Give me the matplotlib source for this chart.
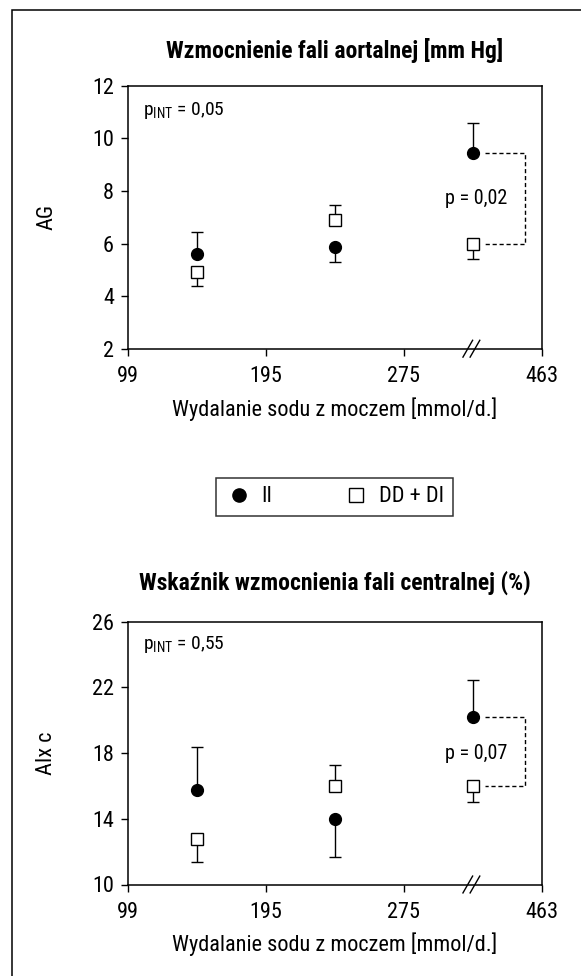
import numpy as np
import matplotlib
matplotlib.use("Agg")
import matplotlib.pyplot as plt
from matplotlib.lines import Line2D
from matplotlib.patches import Rectangle

FONT = ['Roboto Condensed', 'DejaVu Sans']
plt.rcParams['font.family'] = FONT
plt.rcParams['mathtext.fontset'] = 'custom'
plt.rcParams['mathtext.rm'] = 'Roboto Condensed'
plt.rcParams['mathtext.it'] = 'Roboto Condensed'

# ---------------- data ----------------
tick_labels = ['99', '195', '275', '463']
groups = ['99-195', '195-275', '275-463']

ag_ii = [5.6, 5.85, 9.45]
ag_ii_err = [0.85, 0.55, 1.15]
ag_ii_dir = ['up', 'down', 'up']
ag_dd = [4.9, 6.9, 6.0]
ag_dd_err = [0.5, 0.55, 0.6]
ag_dd_dir = ['down', 'up', 'down']

aix_ii = [15.75, 14.0, 20.2]
aix_ii_err = [2.6, 2.35, 2.25]
aix_ii_dir = ['up', 'down', 'up']
aix_dd = [12.75, 16.0, 16.0]
aix_dd_err = [1.4, 1.25, 1.0]
aix_dd_dir = ['down', 'up', 'down']

titles = ['Wzmocnienie fali aortalnej [mm Hg]', 'Wskaźnik wzmocnienia fali centralnej (%)']
ylabels = ['AG', 'AIx c']
xlabel = 'Wydalanie sodu z moczem [mmol/d.]'
p_int = ['0,05', '0,55']
p_pair = ['0,02', '0,07']
series_labels = ['II', 'DD + DI']

W, H = 581, 976
fig = plt.figure(figsize=(W / 100, H / 100), dpi=100)

def fx(px):
    return px / W

def fy(py):
    return 1 - py / H

# outer frame (top and left visible)
fig.patches.append(Rectangle((fx(12), fy(990)), fx(600), fy(10) - fy(990),
                             transform=fig.transFigure, fill=False,
                             edgecolor='black', linewidth=1.1))

ax_specs = [
    dict(top=85.7, bottom=348.7, ylim=(2, 12), yticks=[2, 4, 6, 8, 10, 12],
         ii=ag_ii, ii_err=ag_ii_err, ii_dir=ag_ii_dir,
         dd=ag_dd, dd_err=ag_dd_err, dd_dir=ag_dd_dir,
         pint_y=11.05, pp_y=7.73, title_y=50.5),
    dict(top=621.7, bottom=884.5, ylim=(10, 26), yticks=[10, 14, 18, 22, 26],
         ii=aix_ii, ii_err=aix_ii_err, ii_dir=aix_ii_dir,
         dd=aix_dd, dd_err=aix_dd_err, dd_dir=aix_dd_dir,
         pint_y=24.6, pp_y=18.0, title_y=583),
]

left_px, right_px = 128, 541.7
xpos = np.arange(len(groups)) + 0.5

def yerr_from(err, dirs):
    lo = [e if d == 'down' else 0 for e, d in zip(err, dirs)]
    hi = [e if d == 'up' else 0 for e, d in zip(err, dirs)]
    return [lo, hi]

for i, s in enumerate(ax_specs):
    h_px = s['bottom'] - s['top']
    ax = fig.add_axes([fx(left_px), fy(s['bottom']), fx(right_px - left_px), h_px / H])
    ax.set_xlim(0, len(tick_labels) - 1)
    ax.set_ylim(*s['ylim'])
    ax.set_yticks(s['yticks'])
    ax.set_xticks(np.arange(len(tick_labels)))
    ax.set_xticklabels(tick_labels)
    ax.tick_params(direction='out', length=5, width=1.0, labelsize=16)
    ax.tick_params(axis='x', pad=7.5)
    ax.tick_params(axis='y', pad=5)
    for sp in ax.spines.values():
        sp.set_linewidth(1.1)

    # error bars (one-sided)
    ax.errorbar(xpos, s['ii'], yerr=yerr_from(s['ii_err'], s['ii_dir']),
                fmt='o', color='black', markersize=8.5, ecolor='black',
                elinewidth=1.0, capsize=4, capthick=1.0, zorder=3)
    ax.errorbar(xpos, s['dd'], yerr=yerr_from(s['dd_err'], s['dd_dir']),
                fmt='s', color='black', mfc='white', mec='black', mew=1.0,
                markersize=8.5, ecolor='black', elinewidth=1.0, capsize=4,
                capthick=1.0, zorder=3)

    # bracket for last group
    xb0, xb1 = xpos[-1] + 0.09, xpos[-1] + 0.38
    ax.plot([xb0, xb1, xb1, xb0], [s['ii'][-1], s['ii'][-1], s['dd'][-1], s['dd'][-1]],
            ls=(0, (3, 2)), color='black', lw=1.0)
    ax.text(xpos[-1] - 0.2, s['pp_y'], 'p = ' + p_pair[i], fontsize=14.5,
            ha='left', va='center')

    # p_INT
    ax.text(0.11, s['pint_y'], r'p$_{\mathregular{INT}}$ = ' + p_int[i],
            fontsize=14, ha='left', va='center')

    # axis break marks
    for dx in (-0.026, 0.026):
        ax.plot([xpos[-1] - 0.01 + dx - 0.035, xpos[-1] - 0.01 + dx + 0.035],
                [-0.032, 0.032], transform=ax.get_xaxis_transform(),
                color='black', lw=1.0, clip_on=False)

    ax.set_ylabel(ylabels[i], fontsize=16)
    ax.yaxis.set_label_coords(-(left_px - 57) / (right_px - left_px), 0.5)
    ax.set_xlabel(xlabel, fontsize=16)
    ax.xaxis.set_label_coords(0.5, -60 / h_px)
    ax.xaxis.label.set_va('center')
    fig.text(fx((left_px + right_px) / 2), fy(s['title_y']), titles[i],
             fontsize=17, fontweight='bold', ha='center', va='center')

# legend
handles = [Line2D([], [], marker='o', ls='none', color='black', markersize=9.5),
           Line2D([], [], marker='s', ls='none', mfc='white', mec='black',
                  mew=1.0, markersize=9.5)]
leg = fig.legend(handles, series_labels, loc='center',
                 bbox_to_anchor=(fx(334.5), fy(497)), ncol=2, fontsize=16,
                 frameon=True, fancybox=False, edgecolor='black',
                 handletextpad=0.4, columnspacing=3.2, handlelength=1.2,
                 borderpad=0.4)
leg.get_frame().set_linewidth(1.1)

fig.savefig('out.png', dpi=100)
